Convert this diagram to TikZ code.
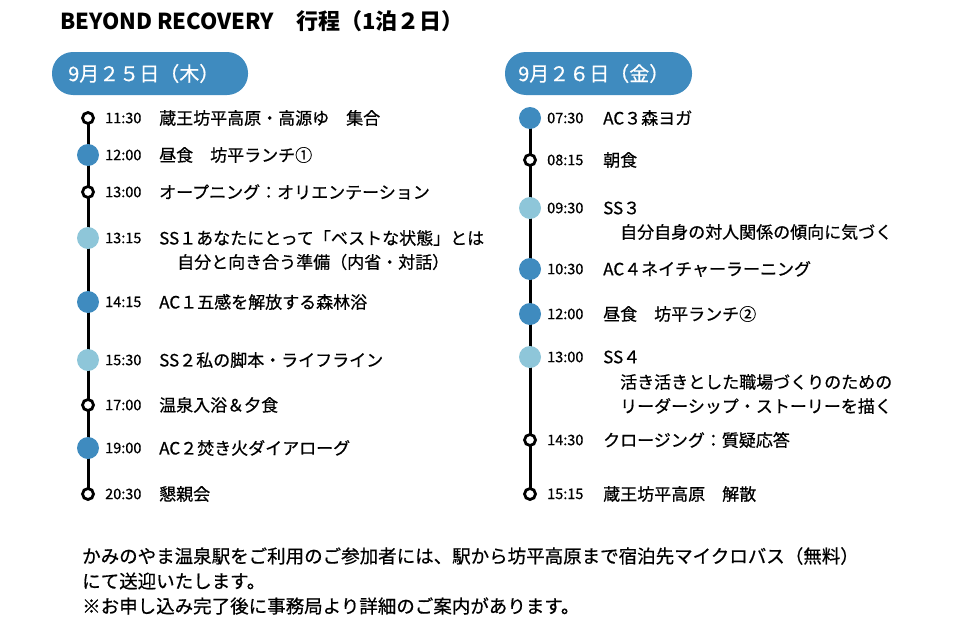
\documentclass[tikz,border=0pt]{standalone}
\usepackage{fontspec}
\setmainfont{Noto Sans CJK JP}
\newfontfamily\medf{Noto Sans CJK JP}[FakeBold=0.6]
\definecolor{dk}{HTML}{3F8BBF}
\definecolor{lt}{HTML}{8EC6D9}
\begin{document}
\begin{tikzpicture}[x=1pt,y=-1pt,
  openm/.style={circle,draw=black,line width=2.8pt,fill=white,minimum size=11pt,inner sep=0pt},
  darkm/.style={circle,fill=dk,minimum size=22pt,inner sep=0pt},
  lightm/.style={circle,fill=lt,minimum size=22pt,inner sep=0pt},
  tm/.style={anchor=west,font=\medf\fontsize{14.5}{17}\selectfont,inner sep=0pt},
  tx/.style={anchor=west,font=\medf\fontsize{17}{20}\selectfont,inner sep=0pt},
  nt/.style={anchor=west,font=\medf\fontsize{18.5}{22}\selectfont,inner sep=0pt},
  hd/.style={anchor=west,text=white,font=\medf\fontsize{20}{23}\selectfont,inner sep=0pt},
  ln/.style={line width=3pt,black}]
\useasboundingbox (0,0) rectangle (970,632);
\node[anchor=west,inner sep=0pt,font=\fontsize{22}{26}\selectfont\bfseries] (title) at (60,21) {BEYOND RECOVERY\quad 行程（1泊２日）};
\fill[dk,rounded corners=21pt] (52,52) rectangle (248,95);
\node[hd] (d1) at (68,73.5) {9月２５日（木）};
\fill[dk,rounded corners=21pt] (505,52) rectangle (692,95);
\node[hd] (d2) at (518,73.5) {9月２６日（金）};
\coordinate (ltop) at (88,118); \coordinate (lbot) at (88,494);
\draw[ln] (ltop) -- (lbot);
\coordinate (rtop) at (530,118); \coordinate (rbot) at (530,494);
\draw[ln] (rtop) -- (rbot);
\foreach \y/\s/\t/\x [count=\i] in {
 118/openm/11:30/蔵王坊平高原・高源ゆ　集合,
 155/darkm/12:00/昼食　坊平ランチ①,
 192/openm/13:00/オープニング：オリエンテーション,
 238/lightm/13:15/SS１あなたにとって「ベストな状態」とは,
 302/darkm/14:15/AC１五感を解放する森林浴,
 360/lightm/15:30/SS２私の脚本・ライフライン,
 405/openm/17:00/温泉入浴＆夕食,
 448/darkm/19:00/AC２焚き火ダイアローグ,
 494/openm/20:30/懇親会}{
 \node[\s] (lm\i) at (88,\y) {};
 \node[tm] (lt\i) at (105,\y) {\t};
 \node[tx] (lx\i) at (159,\y) {\x};
}
\node[tx] (lx4b) at (177,262) {自分と向き合う準備（内省・対話）};
\foreach \y/\s/\t/\x [count=\i] in {
 118/darkm/07:30/AC３森ヨガ,
 160/openm/08:15/朝食,
 208/lightm/09:30/SS３,
 269/darkm/10:30/AC４ネイチャーラーニング,
 314/darkm/12:00/昼食　坊平ランチ②,
 357/lightm/13:00/SS４,
 440/openm/14:30/クロージング：質疑応答,
 494/openm/15:15/蔵王坊平高原　解散}{
 \node[\s] (rm\i) at (530,\y) {};
 \node[tm] (rt\i) at (547,\y) {\t};
 \node[tx] (rx\i) at (603,\y) {\x};
}
\node[tx] (rx3b) at (620,232) {自分自身の対人関係の傾向に気づく};
\node[tx] (rx6b) at (620,382) {活き活きとした職場づくりのための};
\node[tx] (rx6c) at (620,406) {リーダーシップ・ストーリーを描く};
\node[nt] (n1) at (82,556) {かみのやま温泉駅をご利用のご参加者には、駅から坊平高原まで宿泊先マイクロバス（無料）};
\node[nt] (n2) at (82,581) {にて送迎いたします。};
\node[nt] (n3) at (82,606) {※お申し込み完了後に事務局より詳細のご案内があります。};
\end{tikzpicture}
\end{document}
